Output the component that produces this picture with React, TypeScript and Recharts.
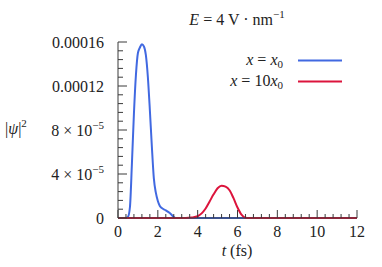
import { LineChart, Line, XAxis, YAxis } from "recharts"

// |psi|^2, values in units of 1e-5
const blueT = [0, 0.4, 0.5, 0.6, 0.7, 0.8, 0.9, 1.0, 1.1, 1.2, 1.3, 1.4, 1.5, 1.6, 1.7, 1.8, 1.9, 2.0, 2.1, 2.2, 2.4, 2.6, 2.8, 2.9, 3.0, 12]
const blueVal = [0, 0, 0.1, 1.0, 5.0, 9.5, 13.0, 15.0, 15.5, 15.8, 15.6, 14.8, 12.8, 9.8, 6.5, 3.6, 2.3, 1.55, 1.1, 0.9, 0.7, 0.45, 0.1, 0, 0, 0]
const redT = [0, 3.4, 3.7, 4.0, 4.2, 4.4, 4.6, 4.8, 5.0, 5.2, 5.4, 5.6, 5.8, 6.0, 6.2, 6.4, 6.6, 12]
const redVal = [0, 0, 0.04, 0.16, 0.42, 0.86, 1.5, 2.15, 2.7, 2.94, 2.85, 2.52, 1.8, 0.95, 0.3, 0.02, 0, 0]

const xMajor = [0, 2, 4, 6, 8, 10, 12]
const yMajor = [0, 4e-5, 8e-5, 12e-5, 16e-5]
const yLabels = [
  ["0", ""],
  ["4 × 10", "−5"],
  ["8 × 10", "−5"],
  ["0.00012", ""],
  ["0.00016", ""],
]

const blueData = blueT.map((t, i) => ({ t, v: blueVal[i] * 1e-5 }))
const redData = redT.map((t, i) => ({ t, v: redVal[i] * 1e-5 }))

// minor ticks: 5 subdivisions between majors
const xTicks = Array.from({ length: 31 }, (_, i) => Math.round(i * 4) / 10)
const yTicks = Array.from({ length: 21 }, (_, i) => i * 8e-6)

const axisColor = "#3a3a3a"
const font = "'Liberation Serif', 'DejaVu Serif', serif"

function XTick(props: any) {
  const { x, y, payload } = props
  const v = payload.value
  const major = xMajor.some((m) => Math.abs(m - v) < 1e-6)
  return (
    <g>
      <line x1={x} x2={x} y1={y} y2={y - (major ? 8 : 4)} stroke={axisColor} strokeWidth={1} />
      {major && (
        <text x={x} y={y + 19} textAnchor="middle" fontFamily={font} fontSize={16} fill="#222">
          {v}
        </text>
      )}
    </g>
  )
}

function YTick(props: any) {
  const { x, y, payload } = props
  const v = payload.value
  const idx = yMajor.findIndex((m) => Math.abs(m - v) < 1e-9)
  const major = idx >= 0
  return (
    <g>
      <line x1={x} x2={x + (major ? 9 : 5)} y1={y} y2={y} stroke={axisColor} strokeWidth={1} />
      {major && (
        <text x={x - 14} y={y + 5.5} textAnchor="end" fontFamily={font} fontSize={16} fill="#222">
          {yLabels[idx][0]}
          {yLabels[idx][1] && (
            <tspan dy={-7} fontSize={11}>
              {yLabels[idx][1]}
            </tspan>
          )}
        </text>
      )}
    </g>
  )
}

export default function App() {
  return (
    <div style={{ position: "fixed", left: 0, top: 0, width: 382, height: 267, background: "#fff" }}>
      <LineChart width={382} height={267} margin={{ top: 42, right: 25, left: 0, bottom: 0 }}>
        <XAxis
          dataKey="t"
          type="number"
          domain={[0, 12]}
          ticks={xTicks}
          interval={0}
          tick={<XTick />}
          tickLine={false}
          tickSize={0}
          tickMargin={0}
          height={49}
          stroke={axisColor}
          allowDuplicatedCategory={false}
        />
        <YAxis
          type="number"
          domain={[0, 16e-5]}
          ticks={yTicks}
          interval={0}
          tick={<YTick />}
          tickLine={false}
          tickSize={0}
          tickMargin={0}
          width={118}
          stroke={axisColor}
        />
        <Line data={blueData} dataKey="v" type="monotone" stroke="#4169e1" strokeWidth={2} dot={false} isAnimationActive={false} />
        <Line data={redData} dataKey="v" type="monotone" stroke="#dc143c" strokeWidth={2} dot={false} isAnimationActive={false} />
      </LineChart>
      <svg width={382} height={267} style={{ position: "absolute", left: 0, top: 0, pointerEvents: "none" }}>
        <g fontFamily={font} fontSize={16} fill="#222">
          <text x={237} y={25} textAnchor="middle">
            <tspan fontStyle="italic">E</tspan> = 4 V · nm<tspan dy={-7} fontSize={11}>−1</tspan>
          </text>
          <text x={237} y={256} textAnchor="middle">
            <tspan fontStyle="italic">t</tspan> (fs)
          </text>
          <text x={5} y={134}>
            |<tspan fontStyle="italic">ψ</tspan>|<tspan dy={-7} fontSize={11}>2</tspan>
          </text>
          <text x={283} y={65} textAnchor="end">
            <tspan fontStyle="italic">x</tspan> = <tspan fontStyle="italic">x</tspan>
            <tspan dy={3} fontSize={11}>0</tspan>
          </text>
          <text x={283} y={86} textAnchor="end">
            <tspan fontStyle="italic">x</tspan> = 10<tspan fontStyle="italic">x</tspan>
            <tspan dy={3} fontSize={11}>0</tspan>
          </text>
        </g>
        <line x1={298} x2={342} y1={60.5} y2={60.5} stroke="#4169e1" strokeWidth={2} />
        <line x1={298} x2={342} y1={81.5} y2={81.5} stroke="#dc143c" strokeWidth={2} />
      </svg>
    </div>
  )
}
